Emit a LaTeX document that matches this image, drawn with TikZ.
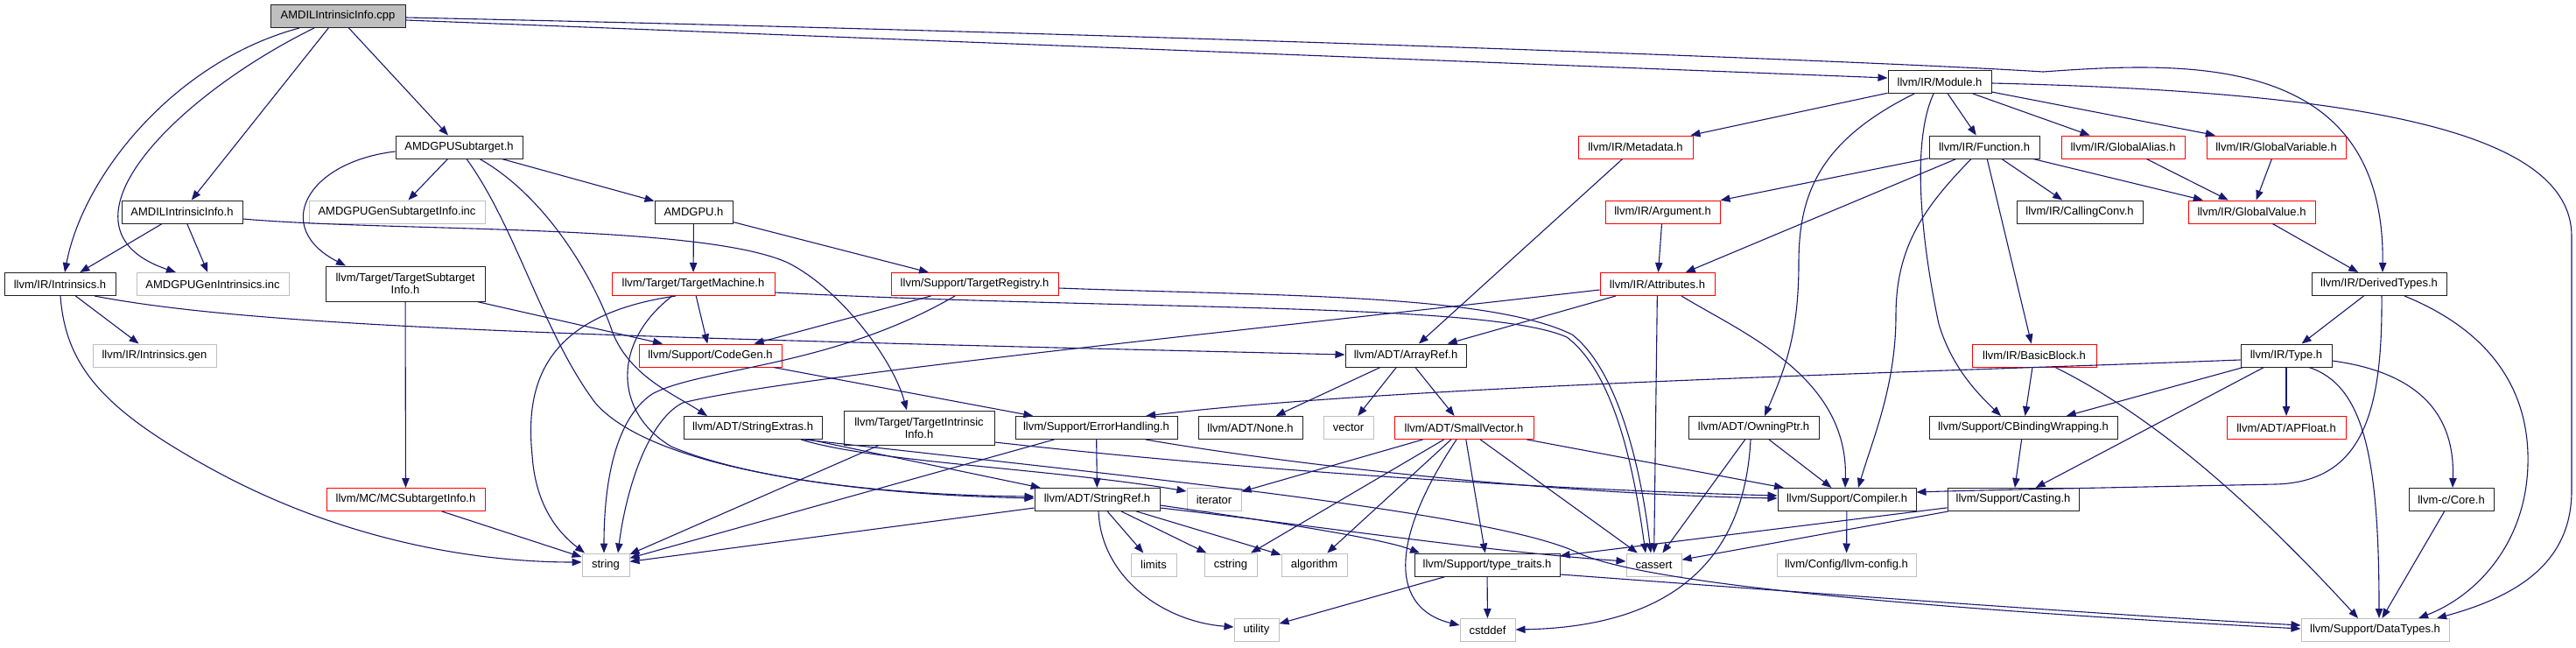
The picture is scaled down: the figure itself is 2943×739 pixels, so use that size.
\documentclass[tikz,border=0pt]{standalone}
\usepackage{fontspec}
\setmainfont{Liberation Sans}
\usetikzlibrary{arrows.meta}
\definecolor{edgeblue}{HTML}{191970}
\definecolor{nodegrey}{HTML}{BFBFBF}
\definecolor{nodered}{HTML}{FF0000}
\definecolor{nodeblack}{HTML}{202020}
\newcommand{\gnode}[5]{\node[#1, minimum width=#2pt] (#3) at (#4) {#5};}
\begin{document}
\begin{tikzpicture}[x=0.5pt, y=-0.5pt,
  nb/.style={draw=nodeblack, line width=0.5pt, inner sep=0pt, minimum height=13pt,
    font=\fontsize{6.5pt}{7pt}\selectfont, fill=white},
  nr/.style={nb, draw=nodered},
  ng/.style={nb, draw=nodegrey},
  e/.style={draw=edgeblue, line width=0.55pt, -{Triangle[length=5.5pt,width=4.2pt]}}]
\fill[white] (0,0) rectangle (2943,739);
\useasboundingbox (0,0) rectangle (2943,739);

% ---------- nodes ----------
\gnode{nb,fill=nodegrey}{77}{cpp}{386,18.5}{AMDILIntrinsicInfo.cpp}
\gnode{nb}{72.5}{sub}{524.5,168}{AMDGPUSubtarget.h}
\gnode{ng}{100.5}{gsi}{453.5,242}{AMDGPUGenSubtargetInfo.inc}
\gnode{nb}{69}{aii}{208,242}{AMDILIntrinsicInfo.h}
\gnode{nb}{63.5}{intr}{68.5,324.5}{llvm/IR/Intrinsics.h}
\gnode{ng}{87}{gin}{243,324.5}{AMDGPUGenIntrinsics.inc}
\gnode{nb,minimum height=20pt,align=center}{91}{tsi}{463,324}{llvm/Target/TargetSubtarget\\Info.h}
\gnode{nr}{93}{tm}{792,324.5}{llvm/Target/TargetMachine.h}
\gnode{nb}{44.5}{amdgpu}{792.5,242}{AMDGPU.h}
\gnode{nr}{95.5}{treg}{1113.5,324.5}{llvm/Support/TargetRegistry.h}
\gnode{nb}{59}{mod}{2216,93.5}{llvm/IR/Module.h}
\gnode{nr}{65.5}{meta}{1868.5,168}{llvm/IR/Metadata.h}
\gnode{nr}{65.5}{arg}{1899.5,242}{llvm/IR/Argument.h}
\gnode{nr}{65.5}{attr}{1893.5,324.5}{llvm/IR/Attributes.h}
\gnode{nb}{63}{func}{2267,168}{llvm/IR/Function.h}
\gnode{nr}{70.5}{galias}{2425.5,168}{llvm/IR/GlobalAlias.h}
\gnode{nr}{79.5}{gvar}{2600.5,168}{llvm/IR/GlobalVariable.h}
\gnode{nb}{72}{cc}{2376,242}{llvm/IR/CallingConv.h}
\gnode{nr}{72.5}{gval}{2572.5,242}{llvm/IR/GlobalValue.h}
\gnode{nb}{77}{dt}{2718,324.5}{llvm/IR/DerivedTypes.h}
\gnode{ng}{70.5}{igen}{176.5,406}{llvm/IR/Intrinsics.gen}
\gnode{nr}{90.5}{mcs}{463.5,570.5}{llvm/MC/MCSubtargetInfo.h}
\gnode{ng}{27}{str}{692,645}{string}
\gnode{nr}{81.5}{cg}{811.5,406}{llvm/Support/CodeGen.h}
\gnode{nb}{79}{se}{860,488.5}{llvm/ADT/StringExtras.h}
\gnode{nb,minimum height=19.5pt,align=center}{86}{tii}{1050,488.5}{llvm/Target/TargetIntrinsic\\Info.h}
\gnode{nb}{92.5}{eh}{1252.5,488.5}{llvm/Support/ErrorHandling.h}
\gnode{nb}{59.5}{none}{1428.5,488.5}{llvm/ADT/None.h}
\gnode{nb}{71.5}{sr}{1253.5,570.5}{llvm/ADT/StringRef.h}
\gnode{ng}{31}{iter}{1387,570.5}{iterator}
\gnode{ng}{26}{lim}{1318,645}{limits}
\gnode{ng}{30}{cstr}{1406,645}{cstring}
\gnode{ng}{37.5}{alg}{1501.5,645}{algorithm}
\gnode{ng}{25.5}{util}{1435.5,719.5}{utility}
\gnode{nb}{69}{ar}{1606,406}{llvm/ADT/ArrayRef.h}
\gnode{ng}{28.5}{vec}{1540.5,488.5}{vector}
\gnode{nr}{79.5}{sv}{1672.5,488.5}{llvm/ADT/SmallVector.h}
\gnode{nb}{74.5}{own}{2003.5,488.5}{llvm/ADT/OwningPtr.h}
\gnode{nb}{79}{comp}{2110,570.5}{llvm/Support/Compiler.h}
\gnode{nb}{83}{tt}{1699,645}{llvm/Support/type\_traits.h}
\gnode{ng}{31.5}{cass}{1889.5,645}{cassert}
\gnode{ng}{79.5}{cfg}{2109.5,645}{llvm/Config/llvm-config.h}
\gnode{ng}{31.5}{cdef}{1699.5,719.5}{cstddef}
\gnode{nr}{71}{bb}{2324,406}{llvm/IR/BasicBlock.h}
\gnode{nb}{52}{type}{2612,406}{llvm/IR/Type.h}
\gnode{nb}{107.5}{cbw}{2311.5,488.5}{llvm/Support/CBindingWrapping.h}
\gnode{nr}{68}{apf}{2612,488.5}{llvm/ADT/APFloat.h}
\gnode{nb}{75}{cast}{2300,570.5}{llvm/Support/Casting.h}
\gnode{nb}{48.5}{core}{2800.5,570.5}{llvm-c/Core.h}
\gnode{ng}{84.5}{dty}{2713.5,719.5}{llvm/Support/DataTypes.h}

% ---------- edges ----------
% from AMDILIntrinsicInfo.cpp
\draw[e] (cpp) -- (aii);
\draw[e] (cpp) -- (sub);
\draw[e] (cpp.south -| 342,0) .. controls (200,70) and (95,200) .. (intr.north -| 74,0);
\draw[e] (cpp.south -| 359,0) .. controls (200,110) and (50,260) .. (gin.north -| 201,0);
\draw[e] (cpp.east |- 0,23) -- (mod.west |- 0,89);
\draw[e] (cpp.east |- 0,20) .. controls (1300,38) and (2150,70) .. (2334,82)
  .. controls (2500,70) and (2725,60) .. (dt.north -| 2722,0);
% AMDGPUSubtarget.h
\draw[e] (sub) -- (gsi);
\draw[e] (sub) -- (amdgpu);
\draw[e] (sub.west |- 0,173) .. controls (350,185) and (310,260) .. (tsi.north -| 395,0);
\draw[e] (sub.south -| 548,0) .. controls (625,225) and (680,320) .. (700,380)
  .. controls (720,430) and (770,450) .. (se.north -| 808,0);
\draw[e] (sub.south -| 533,0) .. controls (590,260) and (620,380) .. (680,460)
  .. controls (740,530) and (950,565) .. (sr.west |- 0,567);
% AMDILIntrinsicInfo.h
\draw[e] (aii) -- (intr);
\draw[e] (aii) -- (gin);
\draw[e] (aii.east |- 0,250) .. controls (450,265) and (800,255) .. (900,300)
  .. controls (960,330) and (1020,410) .. (tii.north -| 1036,0);
% AMDGPU.h
\draw[e] (amdgpu) -- (tm);
\draw[e] (amdgpu) -- (treg);
% llvm/IR/Intrinsics.h
\draw[e] (intr) -- (igen);
\draw[e] (intr.south -| 69,0) .. controls (75,420) and (120,470) .. (250,540)
  .. controls (400,620) and (550,642) .. (str.west |- 0,642);
\draw[e] (intr.south -| 108,0) .. controls (300,375) and (700,385) .. (ar.west |- 0,405);
% TargetSubtargetInfo
\draw[e] (tsi) -- (mcs);
\draw[e] (tsi.south -| 545,0) -- (cg.north -| 757,0);
\draw[e] (mcs) -- (str);
% TargetMachine.h
\draw[e] (tm) -- (cg);
\draw[e] (tm.south -| 772,0) .. controls (620,360) and (600,440) .. (608,520)
  .. controls (612,580) and (640,610) .. (str.north -| 668,0);
\draw[e] (tm.south -| 768,0) .. controls (700,390) and (700,470) .. (767,510)
  .. controls (850,545) and (1000,565) .. (sr.west |- 0,569);
\draw[e] (tm.east |- 0,334) .. controls (1300,355) and (1700,345) .. (1790,385)
  .. controls (1850,430) and (1870,560) .. (cass.north -| 1880,0);
% TargetRegistry.h
\draw[e] (treg) -- (cg);
\draw[e] (treg.south -| 1091,0) .. controls (950,420) and (800,420) .. (745,450)
  .. controls (700,480) and (690,560) .. (str.north -| 690,0);
\draw[e] (treg.east |- 0,329) .. controls (1450,338) and (1700,335) .. (1796,382)
  .. controls (1855,428) and (1878,560) .. (cass.north -| 1886,0);
% TargetIntrinsicInfo
\draw[e] (tii) -- (str);
\draw[e] (tii.east |- 0,505) .. controls (1450,540) and (1800,560) .. (comp.west |- 0,566);
% CodeGen, ErrorHandling, StringExtras
\draw[e] (cg) -- (eh);
\draw[e] (eh) -- (sr);
\draw[e] (eh) -- (str);
\draw[e] (eh.south -| 1309,0) .. controls (1500,535) and (1800,565) .. (comp.west |- 0,569);
\draw[e] (se) -- (sr);
\draw[e] (se.south -| 915,0) .. controls (1000,528) and (1200,535) .. (iter.west |- 0,561);
\draw[e] (se.south -| 919,0) .. controls (1300,545) and (1700,585) .. (1800,630)
  .. controls (1860,660) and (2100,690) .. (dty.west |- 0,718);
% Module.h
\draw[e] (mod) -- (meta);
\draw[e] (mod) -- (func);
\draw[e] (mod) -- (galias);
\draw[e] (mod) -- (gvar);
\draw[e] (mod.south -| 2187,0) .. controls (2080,160) and (2055,220) .. (2055,300)
  .. controls (2055,380) and (2040,420) .. (own.north -| 2016,0);
\draw[e] (mod.south -| 2209,0) .. controls (2180,170) and (2200,300) .. (2215,370)
  .. controls (2230,420) and (2260,450) .. (cbw.north -| 2286,0);
\draw[e] (mod.east |- 0,95) .. controls (2700,105) and (2938,150) .. (2938,270)
  -- (2938,560) .. controls (2938,640) and (2880,680) .. (dty.north -| 2784,0);
% Function.h
\draw[e] (func) -- (arg);
\draw[e] (func) -- (attr);
\draw[e] (func) -- (bb);
\draw[e] (func) -- (cc);
\draw[e] (func) -- (gval);
\draw[e] (func.south -| 2252,0) .. controls (2200,235) and (2166,280) .. (2166,360)
  .. controls (2166,440) and (2140,500) .. (comp.north -| 2123,0);
\draw[e] (galias) -- (gval);
\draw[e] (gvar) -- (gval);
\draw[e] (gval) -- (dt);
\draw[e] (arg) -- (attr);
\draw[e] (meta) -- (ar);
% Attributes.h
\draw[e] (attr) -- (ar);
\draw[e] (attr) -- (cass);
\draw[e] (attr.west |- 0,331) .. controls (1400,380) and (900,430) .. (780,460)
  .. controls (740,480) and (715,560) .. (str.north -| 706,0);
\draw[e] (attr.south -| 1921,0) .. controls (1990,380) and (2112,430) .. (comp.north -| 2108,0);
% ArrayRef.h, SmallVector.h
\draw[e] (ar) -- (none);
\draw[e] (ar) -- (vec);
\draw[e] (ar) -- (sv);
\draw[e] (sv) -- (iter);
\draw[e] (sv) -- (cstr);
\draw[e] (sv) -- (alg);
\draw[e] (sv) -- (tt);
\draw[e] (sv) -- (cass);
\draw[e] (sv) -- (comp);
\draw[e] (sv.south -| 1664,0) .. controls (1585,620) and (1590,695) .. (cdef.west |- 0,714);
% StringRef.h
\draw[e] (sr) -- (str);
\draw[e] (sr) -- (lim);
\draw[e] (sr) -- (cstr);
\draw[e] (sr) -- (alg);
\draw[e] (sr.south -| 1255,0) .. controls (1258,660) and (1330,710) .. (util.west |- 0,716);
\draw[e] (sr.east |- 0,580) .. controls (1500,600) and (1700,630) .. (cass.west |- 0,641);
\draw[e] (sr.east |- 0,577) .. controls (1450,595) and (1580,615) .. (tt.north -| 1622,0);
% OwningPtr.h, Compiler.h, type_traits.h
\draw[e] (own) -- (comp);
\draw[e] (own) -- (cass);
\draw[e] (own.south -| 2000,0) .. controls (1995,600) and (1950,715) .. (cdef.east |- 0,719);
\draw[e] (comp) -- (cfg);
\draw[e] (tt) -- (util);
\draw[e] (tt) -- (cdef);
\draw[e] (tt.east |- 0,656) .. controls (2000,672) and (2400,702) .. (dty.west |- 0,714);
% Casting, CBindingWrapping, BasicBlock
\draw[e] (cast) -- (cass);
\draw[e] (cast) -- (tt);
\draw[e] (cbw) -- (cast);
\draw[e] (bb) -- (cbw);
\draw[e] (bb.south -| 2348,0) .. controls (2450,470) and (2560,560) .. (dty.north -| 2694,0);
% Type.h
\draw[e] (type) -- (cbw);
\draw[e] (type) -- (cast);
\draw[e] (type) -- (apf);
\draw[e] (type.west |- 0,411) .. controls (2200,425) and (1600,440) .. (eh.north -| 1309,0);
\draw[e] (type.south -| 2638,0) .. controls (2700,440) and (2718,520) .. (dty.north -| 2718,0);
\draw[e] (type.east |- 0,412) .. controls (2760,425) and (2805,470) .. (core.north -| 2802,0);
\draw[e] (core) -- (dty);
% DerivedTypes.h
\draw[e] (dt) -- (type);
\draw[e] (dt.south -| 2721,0) .. controls (2722,470) and (2700,550) .. (2600,553)
  .. controls (2450,556) and (2250,560) .. (comp.east |- 0,562);
\draw[e] (dt.south -| 2747,0) .. controls (2850,380) and (2890,450) .. (2888,530)
  .. controls (2886,620) and (2830,680) .. (dty.north -| 2763,0);
\end{tikzpicture}
\end{document}
